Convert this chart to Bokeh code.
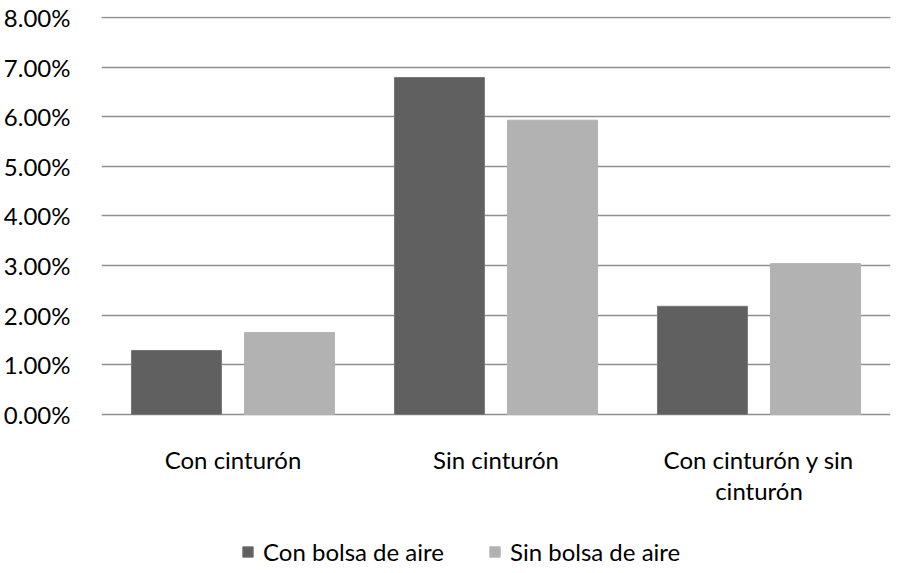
from bokeh.plotting import figure
from bokeh.models import (Range1d, FixedTicker, PrintfTickFormatter, Legend,
                          LegendItem, ColumnDataSource)
from bokeh.core.properties import value
from bokeh.transform import dodge
from bokeh.embed import file_html
from bokeh.resources import INLINE

categories = ["Con cinturón", "Sin cinturón", "Con cinturón y sin\ncinturón"]
series_names = ["Con bolsa de aire", "Sin bolsa de aire"]
con_bolsa = [1.29, 6.79, 2.18]
sin_bolsa = [1.65, 5.93, 3.04]
y_ticks = [0, 1, 2, 3, 4, 5, 6, 7, 8]

FONT = "Lato"
FS = "24px"
DARK = "#606060"
LIGHT = "#b2b2b2"
GRID = "#8e8e8e"

# layout: value area is 398 px tall for 0..8.02; frame extends down to hold
# the category labels and the legend
Y_TOP = 8.02
PLOT_PX = 398
FRAME_PX = 557
px_per_unit = PLOT_PX / Y_TOP
y_start = Y_TOP - FRAME_PX / px_per_unit

xpos = [i + 0.5 for i in range(len(categories))]
src = ColumnDataSource(dict(x=xpos, a=con_bolsa, b=sin_bolsa))

p = figure(frame_width=789, frame_height=FRAME_PX, output_backend="svg",
           toolbar_location=None, x_axis_location=None,
           x_range=Range1d(0, 3), y_range=Range1d(y_start, Y_TOP),
           min_border_left=101, min_border_right=6, min_border_top=16,
           min_border_bottom=0)
p.outline_line_color = None
p.background_fill_color = "white"
p.border_fill_color = "white"

r1 = p.vbar(x=dodge("x", -0.215, range=p.x_range), top="a", bottom=0,
            width=0.342, source=src, fill_color=DARK, line_color="#777777",
            line_width=1)
r2 = p.vbar(x=dodge("x", 0.215, range=p.x_range), top="b", bottom=0,
            width=0.342, source=src, fill_color=LIGHT, line_color=LIGHT,
            line_width=1)

p.xgrid.grid_line_color = None
p.ygrid.ticker = FixedTicker(ticks=y_ticks)
p.ygrid.grid_line_color = GRID
p.ygrid.grid_line_width = 1.5
p.ygrid.level = "underlay"

p.yaxis.ticker = FixedTicker(ticks=y_ticks)
p.yaxis.formatter = PrintfTickFormatter(format="%.2f%%")
p.yaxis.axis_line_color = None
p.yaxis.major_tick_line_color = None
p.yaxis.minor_tick_line_color = None
p.yaxis.major_label_text_font = FONT
p.yaxis.major_label_text_font_size = FS
p.yaxis.major_label_text_color = "#000000"
p.yaxis.major_label_standoff = 25

# category labels below the zero line
label_y = -30 / px_per_unit
p.text(x=xpos, y=[label_y] * len(xpos), text=categories,
       text_font=value(FONT), text_font_size=value(FS), text_color="#000000",
       text_align="center", text_baseline="top", text_line_height=1.1)

legend = Legend(items=[LegendItem(label=series_names[0], renderers=[r1]),
                       LegendItem(label=series_names[1], renderers=[r2])],
                orientation="horizontal", location=(140, 7),
                label_text_font=FONT, label_text_font_size=FS,
                label_text_color="#000000",
                glyph_width=13, glyph_height=13, label_standoff=9,
                spacing=44, border_line_color=None, background_fill_alpha=0,
                margin=0, padding=2)
p.add_layout(legend)

open("out.html", "w").write(file_html(p, INLINE))
